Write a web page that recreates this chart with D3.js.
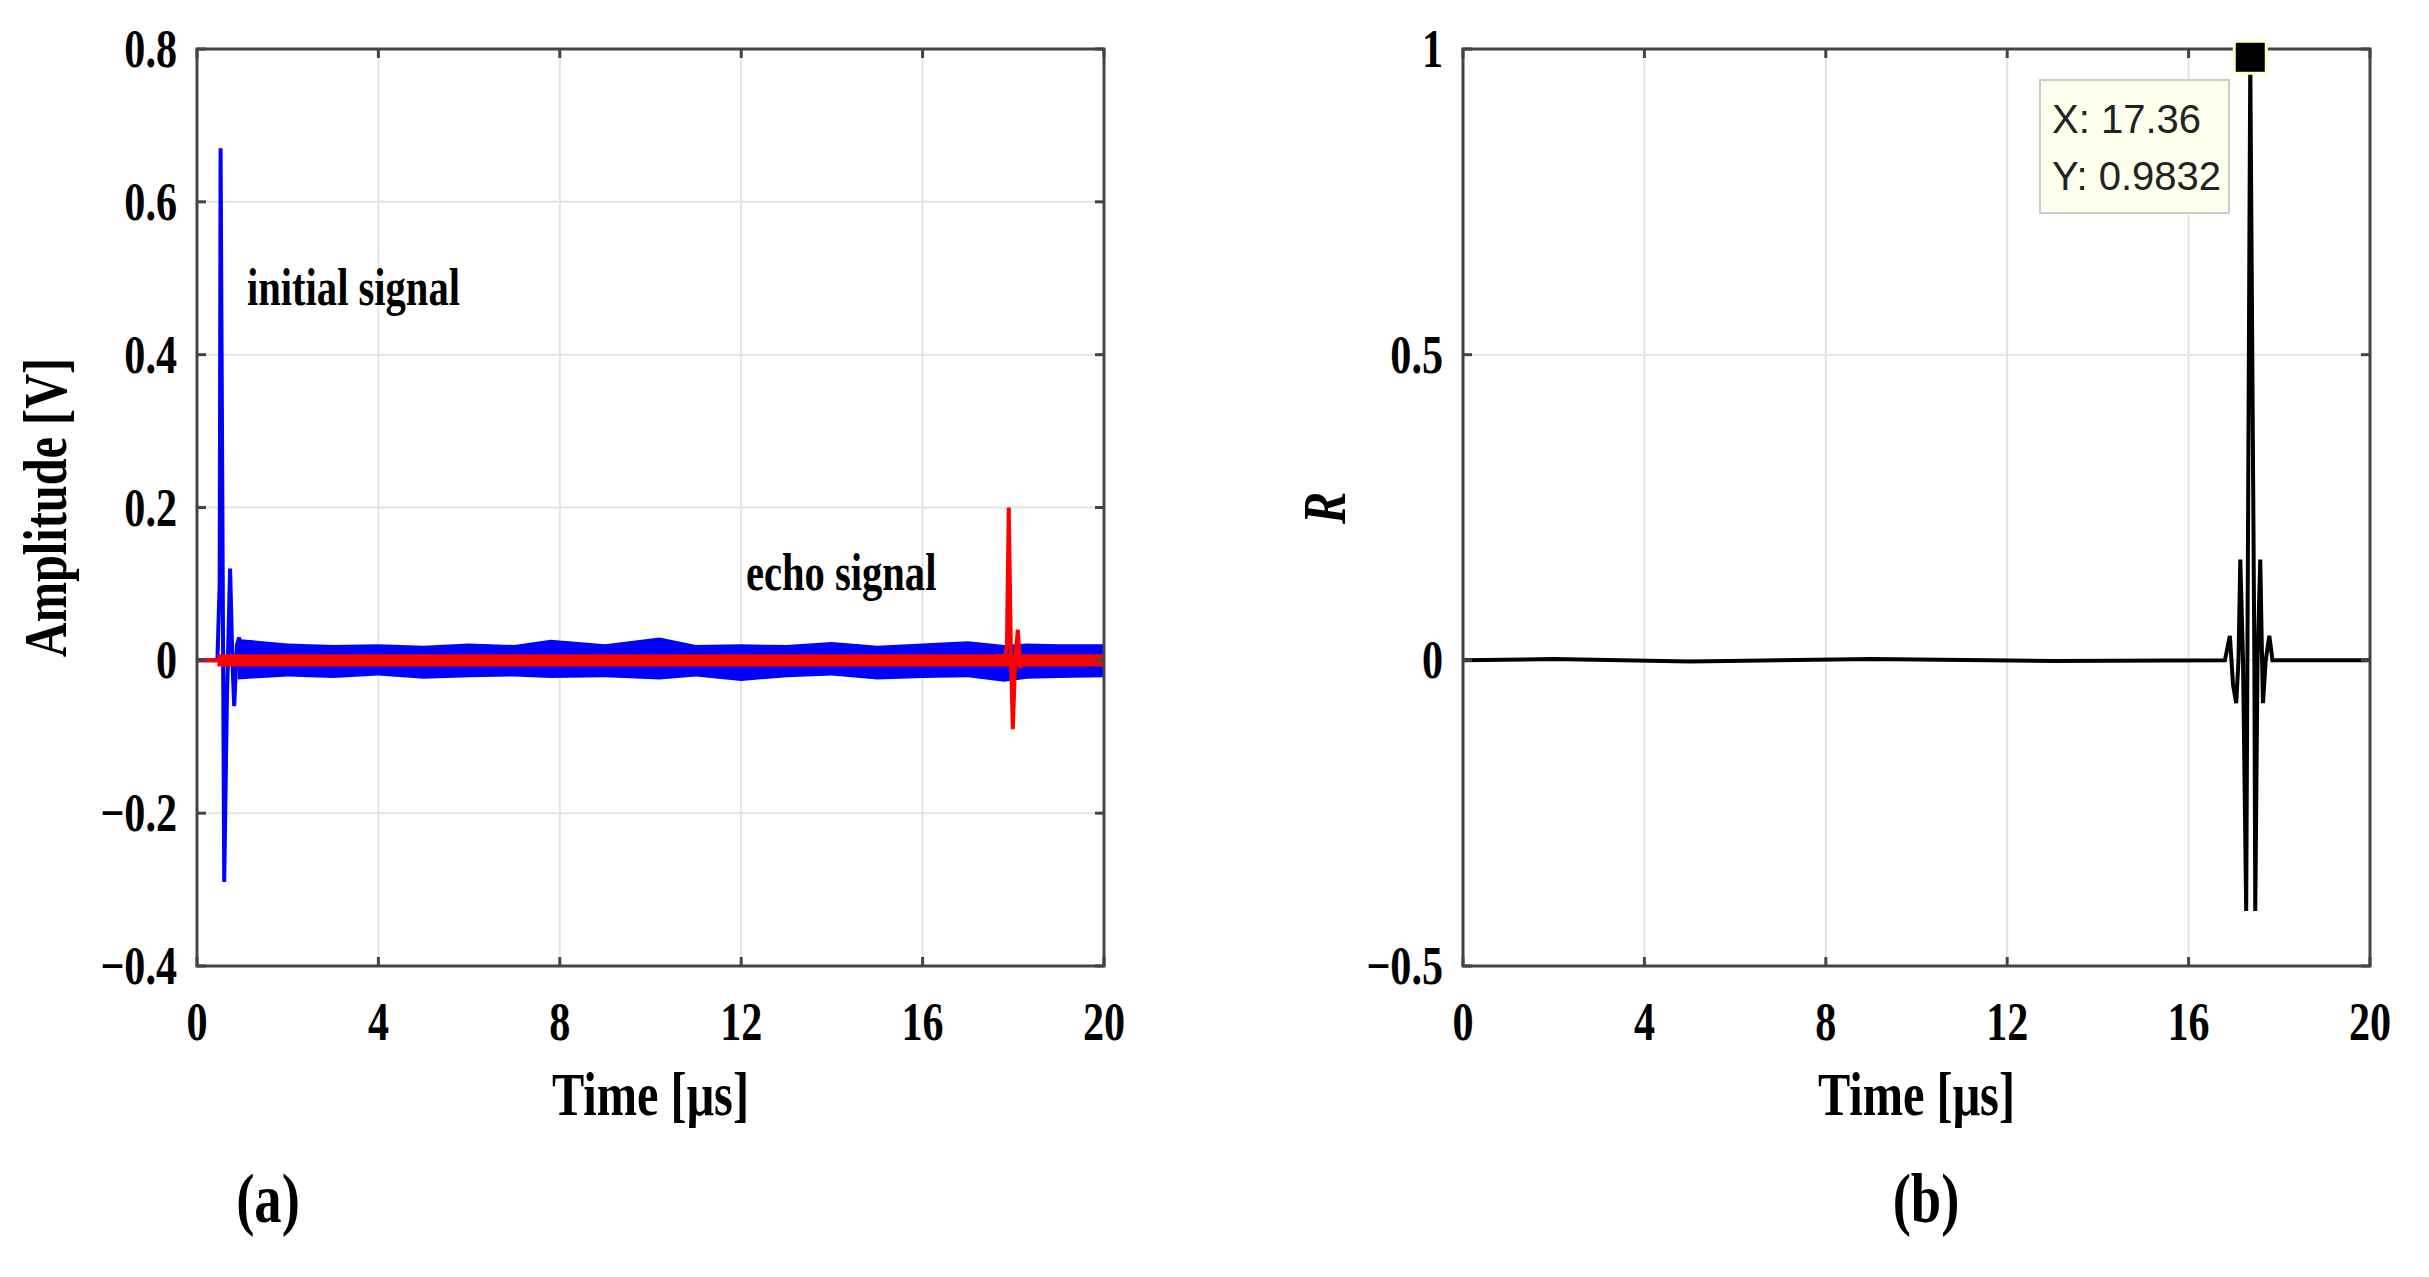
<!DOCTYPE html>
<html>
<head>
<meta charset="utf-8">
<script src="https://cdn.jsdelivr.net/npm/d3@7"></script>
<style>
  body { margin: 0; background: #fff; }
  text { font-family: "Liberation Serif", "Times New Roman", serif; font-weight: bold; }
</style>
</head>
<body>
<script>
// data -------------------------------------------------------------
var xTicks = [0, 4, 8, 12, 16, 20];
var ampTicks = [0.8, 0.6, 0.4, 0.2, 0, -0.2, -0.4];
var ampTickLabels = ['0.8', '0.6', '0.4', '0.2', '0', '\u22120.2', '\u22120.4'];
var rTicks = [1, 0.5, 0, -0.5];
var rTickLabels = ['1', '0.5', '0', '\u22120.5'];

// initial (blue) burst
var blueT = [0, 0.45, 0.5, 0.52, 0.56, 0.6, 0.66, 0.73, 0.78, 0.82, 0.88, 0.93, 0.98];
var blueV = [0, 0, 0.1, 0.67, 0.2, -0.29, -0.05, 0.12, 0.0, -0.06, 0.02, 0.03, 0.0];
// blue noise envelope
var noiseT = [0.9, 2, 3, 4, 5, 6, 7, 7.8, 9, 10.2, 11, 12, 13, 14, 15, 16, 17, 17.8, 18.3, 19, 20];
var blueHi = [0.028, 0.022, 0.02, 0.021, 0.019, 0.022, 0.02, 0.027, 0.021, 0.03, 0.02, 0.021, 0.02, 0.024, 0.019, 0.022, 0.025, 0.02, 0.022, 0.021, 0.021];
var blueLo = [-0.025, -0.021, -0.023, -0.02, -0.024, -0.022, -0.021, -0.023, -0.022, -0.025, -0.021, -0.027, -0.022, -0.02, -0.025, -0.023, -0.022, -0.028, -0.024, -0.023, -0.022];
// echo (red)
var redT = [0, 0.45, 17.8, 17.86, 17.9, 17.95, 17.99, 18.04, 18.1, 18.15, 18.2, 20];
var redV = [0, 0, 0, 0.02, 0.2, 0.0, -0.09, 0.0, 0.04, -0.01, 0, 0];
var redHi = 0.008;
var redLo = -0.008;

// cross-correlation R
var rT = [0, 2, 5, 9, 13, 16.8, 16.91, 16.98, 17.05, 17.1, 17.14, 17.2, 17.27, 17.36, 17.45, 17.47, 17.52, 17.58, 17.62, 17.64, 17.7, 17.78, 17.85, 20];
var rV = [0, 0.002, -0.002, 0.002, -0.001, 0, 0.04, -0.04, -0.07, 0.0, 0.165, 0.0, -0.41, 0.983, 0.0, -0.41, 0.0, 0.165, 0.0, -0.07, 0.0, 0.04, 0, 0];
var peak = { x: 17.36, y: 0.9832 };

// layout -----------------------------------------------------------
var W = 2429, H = 1277;
var plotTop = 49, plotBottom = 966;
var svg = d3.select('body').append('svg').attr('width', W).attr('height', H);

var sx = 0.78; // the figure's text is horizontally condensed

var label = function(g, x, y, txt, size, anchor, opts) {
  opts = opts || {};
  var t = g.append('g').attr('transform', 'translate(' + x + ',' + y + ')' + (opts.rot ? ' rotate(' + opts.rot + ')' : '') + ' scale(' + sx + ',1)')
    .append('text')
    .attr('text-anchor', anchor)
    .attr('font-size', size)
    .attr('fill', opts.fill || '#000')
    .text(txt);
  if (opts.italic) t.style('font-style', 'italic');
  return t;
};

var panel = function(x0, x1, yDomain, yTicks, yLabels) {
  var x = d3.scaleLinear().domain([0, 20]).range([x0, x1]);
  var y = d3.scaleLinear().domain(yDomain).range([plotBottom, plotTop]);
  var g = svg.append('g');

  // grid
  g.selectAll('.vg').data(xTicks.slice(1, -1)).enter().append('line')
    .attr('x1', x).attr('x2', x).attr('y1', plotTop).attr('y2', plotBottom)
    .attr('stroke', '#e3e3e3').attr('stroke-width', 2);
  g.selectAll('.hg').data(yTicks).enter().append('line')
    .attr('x1', x0).attr('x2', x1).attr('y1', y).attr('y2', y)
    .attr('stroke', '#e3e3e3').attr('stroke-width', 2);

  // tick labels
  xTicks.forEach(function(t) {
    label(g, x(t), 1040, String(t), 54, 'middle');
  });
  yTicks.forEach(function(t, i) {
    label(g, x0 - 20, y(t) + 18, yLabels[i], 54, 'end');
  });
  label(g, (x0 + x1) / 2, 1115, 'Time [\u03bcs]', 62, 'middle');
  return { g: g, x: x, y: y, x0: x0, x1: x1 };
};

var frame = function(p, yTicks) {
  var g = p.g;
  g.append('rect').attr('x', p.x0).attr('y', plotTop).attr('width', p.x1 - p.x0).attr('height', plotBottom - plotTop)
    .attr('fill', 'none').attr('stroke', '#444').attr('stroke-width', 3);
  xTicks.forEach(function(t) {
    g.append('line').attr('x1', p.x(t)).attr('x2', p.x(t)).attr('y1', plotBottom).attr('y2', plotBottom - 9).attr('stroke', '#444').attr('stroke-width', 3);
    g.append('line').attr('x1', p.x(t)).attr('x2', p.x(t)).attr('y1', plotTop).attr('y2', plotTop + 9).attr('stroke', '#444').attr('stroke-width', 3);
  });
  yTicks.forEach(function(t) {
    g.append('line').attr('x1', p.x0).attr('x2', p.x0 + 9).attr('y1', p.y(t)).attr('y2', p.y(t)).attr('stroke', '#444').attr('stroke-width', 3);
    g.append('line').attr('x1', p.x1).attr('x2', p.x1 - 9).attr('y1', p.y(t)).attr('y2', p.y(t)).attr('stroke', '#444').attr('stroke-width', 3);
  });
};

var line = function(p, T, V) {
  return d3.line().x(function(d, i) { return p.x(T[i]); }).y(function(d, i) { return p.y(V[i]); })(T);
};
var band = function(p, T, hi, lo) {
  return d3.area().x(function(d, i) { return p.x(T[i]); })
    .y0(function(d, i) { return p.y(typeof lo === 'number' ? lo : lo[i]); })
    .y1(function(d, i) { return p.y(typeof hi === 'number' ? hi : hi[i]); })(T);
};

// panel (a) --------------------------------------------------------
var a = panel(197, 1104, [-0.4, 0.8], ampTicks, ampTickLabels);
a.g.append('path').attr('d', band(a, noiseT, blueHi, blueLo)).attr('fill', '#0000ff');
a.g.append('path').attr('d', line(a, blueT, blueV)).attr('fill', 'none').attr('stroke', '#0000ff').attr('stroke-width', 4);
a.g.append('path').attr('d', band(a, [0.45, 20], redHi, redLo)).attr('fill', '#ff0000');
a.g.append('path').attr('d', line(a, redT, redV)).attr('fill', 'none').attr('stroke', '#ff0000').attr('stroke-width', 4);
frame(a, ampTicks);
label(a.g, 247, 305, 'initial signal', 52, 'start');
label(a.g, 746, 590, 'echo signal', 52, 'start');
label(svg, 66, (plotTop + plotBottom) / 2, 'Amplitude [V]', 62, 'middle', { rot: -90 });
label(svg, 268, 1222, '(a)', 70, 'middle');

// panel (b) --------------------------------------------------------
var b = panel(1463, 2370, [-0.5, 1], rTicks, rTickLabels);
b.g.append('path').attr('d', line(b, rT, rV)).attr('fill', 'none').attr('stroke', '#000').attr('stroke-width', 4);
frame(b, rTicks);
// data tip
b.g.append('rect').attr('x', 2040).attr('y', 80).attr('width', 189).attr('height', 133)
  .attr('fill', '#ffffee').attr('stroke', '#cccccc').attr('stroke-width', 2);
[['X: ' + peak.x, 133], ['Y: ' + peak.y, 190]].forEach(function(r) {
  b.g.append('text').attr('x', 2052).attr('y', r[1]).attr('font-size', 40)
    .style('font-weight', 'normal').style('font-family', 'Arial, "Liberation Sans", sans-serif')
    .attr('fill', '#222').text(r[0]);
});
b.g.append('rect').attr('x', b.x(peak.x) - 16).attr('y', b.y(peak.y) - 18).attr('width', 32).attr('height', 32)
  .attr('fill', '#000').attr('stroke', '#ffffcc').attr('stroke-width', 3);
label(svg, 1345, 508, 'R', 62, 'middle', { rot: -90, italic: true });
label(svg, 1926, 1222, '(b)', 70, 'middle');
</script>
</body>
</html>
